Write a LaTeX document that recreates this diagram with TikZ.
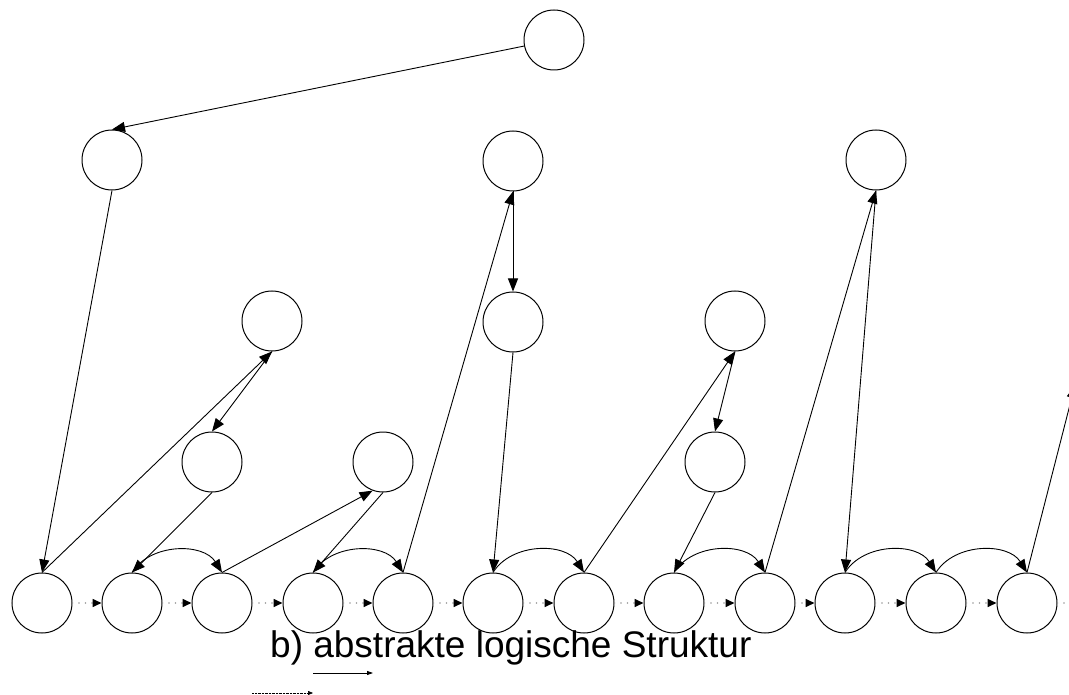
\documentclass[tikz,border=0pt]{standalone}
\usepackage{fontspec}
\setmainfont{Liberation Sans}
\usetikzlibrary{arrows.meta}

\tikzset{
  knoten/.style={circle,draw,line width=1pt,minimum size=60pt,inner sep=0pt},
  kante/.style={line width=0.9pt,-{Triangle[length=13pt,width=10pt]}},
  folge/.style={gray!80,line width=1.6pt,line cap=round,dash pattern=on 0pt off 6.5pt,
    -{Triangle[length=9pt,width=8pt,color=black]}},
}

\begin{document}
\begin{tikzpicture}[x=1pt,y=1pt]
	\useasboundingbox (0,0) rectangle (1069,-695);
	\clip (0,0) rectangle (1069,-695);

	% Blattfolge
	\foreach \i/\x in {1/42,2/132,3/222,4/313,5/403,6/493,7/584,8/674,9/765,10/845,11/936,12/1027}
		\node[knoten] (b\i) at (\x,-603) {};
	\foreach \i [count=\j from 2] in {1,...,11}
		\draw[folge] (b\i.east) -- (b\j.west);
	\coordinate (weiter) at (1090,-603);
	\draw[folge] (b12.east) -- (weiter);

	% innere Knoten
	\node[knoten] (w)  at (554,-40)  {};
	\node[knoten] (l1) at (112,-160) {};
	\node[knoten] (m1) at (513,-161) {};
	\node[knoten] (r1) at (876,-160) {};
	\node[knoten] (a1) at (272,-321) {};
	\node[knoten] (m2) at (513,-322) {};
	\node[knoten] (c1) at (735,-321) {};
	\node[knoten] (a2) at (212,-462) {};
	\node[knoten] (d1) at (383,-462) {};
	\node[knoten] (c2) at (715,-462) {};

	\draw[kante] (w) -- (l1.north);
	\draw[kante] (l1.south) -- (b1.north);
	\draw[kante] (b1.north) -- (a1.south);
	\draw[kante] (a1.south) -- (a2.north);
	\draw[kante] (a2.south) -- (b2.north);
	\draw[kante] (b3.north) -- (d1.250);
	\draw[kante] (d1.south) -- (b4.north);
	\draw[kante] (b5.north) -- (m1.south);
	\draw[kante] (m1.south) -- (m2.north);
	\draw[kante] (m2.south) -- (b6.north);
	\draw[kante] (b7.north) -- (c1.south);
	\draw[kante] (c1.south) -- (c2.north);
	\draw[kante] (c2.south) -- (b8.north);
	\draw[kante] (b9.north) -- (r1.south);
	\draw[kante] (r1.south) -- (b10.north);
	\coordinate (oben) at (1075,-385);
	\draw[kante] (b12.north) -- (oben);

	% Nachbarbögen
	\foreach \i/\j in {2/3,4/5,6/7,8/9,10/11,11/12}
		\draw[kante] (b\i.north) to[out=58,in=122] (b\j.north);

	\node[anchor=base west,inner sep=0pt,font=\fontsize{37}{42}\selectfont] (titel) at (270,-657)
		{b) abstrakte logische Struktur};

	% kleine Pfeile darunter
	\coordinate (p1) at (313,-673); \coordinate (p2) at (373,-673);
	\draw[line width=0.8pt,-{Triangle[length=6pt,width=4pt]}] (p1) -- (p2);
	\coordinate (q1) at (252,-693); \coordinate (q2) at (313,-693);
	\draw[line width=0.6pt,dash pattern=on 0.7pt off 0.7pt,-{Triangle[length=5pt,width=4pt]}] (q1) -- (q2);
\end{tikzpicture}
\end{document}
